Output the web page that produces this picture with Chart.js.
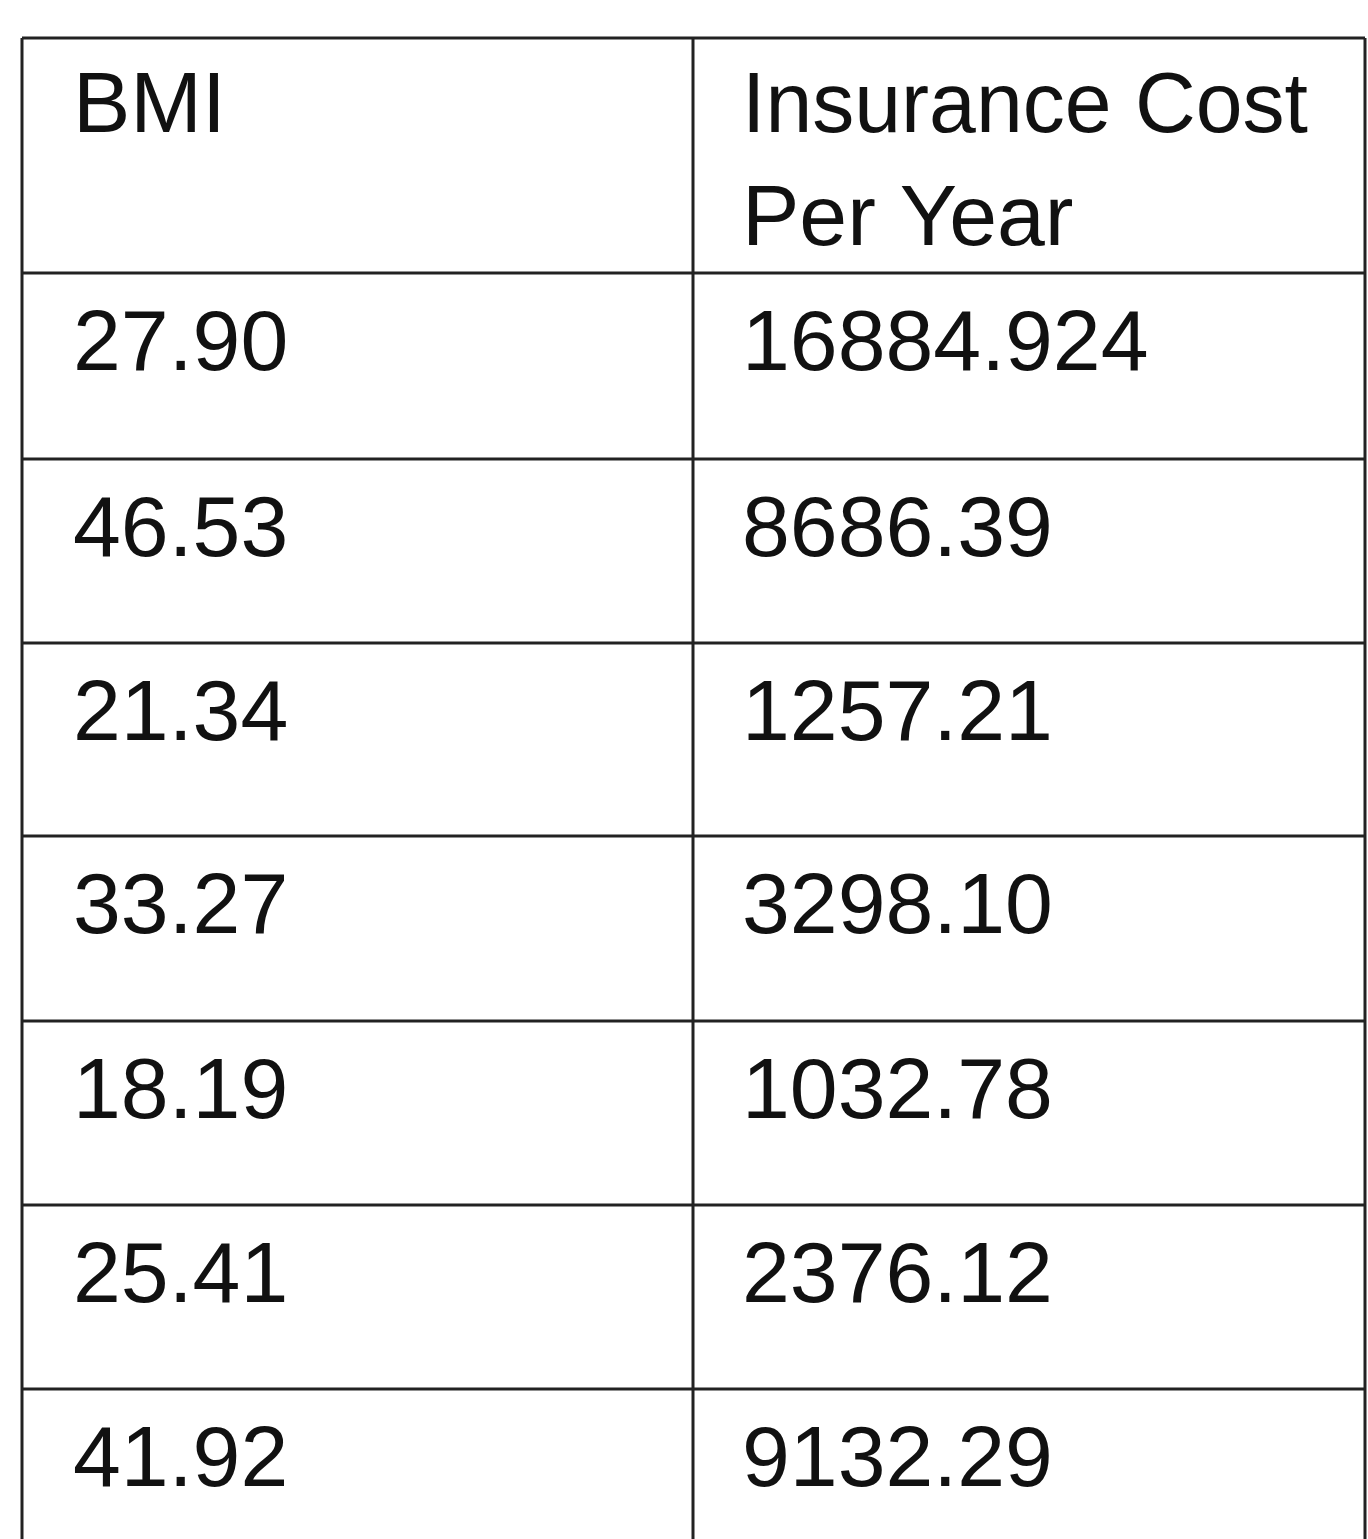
<!DOCTYPE html>
<html>
<head>
<meta charset="utf-8">
<script src="https://cdn.jsdelivr.net/npm/chart.js@4"></script>
<style>
  html, body { margin: 0; padding: 0; background: #fff; }
  #wrap { width: 1368px; height: 1539px; }
</style>
</head>
<body>
<div id="wrap"><canvas id="tableChart"></canvas></div>
<script>
// table content
const headers = [['BMI'], ['Insurance Cost', 'Per Year']];
const bmi = ['27.90', '46.53', '21.34', '33.27', '18.19', '25.41', '41.92'];
const cost = ['16884.924', '8686.39', '1257.21', '3298.10', '1032.78', '2376.12', '9132.29'];

// grid layout (page pixels)
const colLines = [22, 693, 1365];
const rowLines = [38, 273, 459, 643, 836, 1021, 1205, 1389, 1580];
const textX = [73, 742];

const tablePlugin = {
    id: 'tableDraw',
    afterDraw(chart) {
        const c = chart.ctx;
        const xs = chart.scales.x, ys = chart.scales.y;
        const px = v => xs.getPixelForValue(v);
        const py = v => ys.getPixelForValue(v);
        c.save();
        c.strokeStyle = '#222';
        c.lineWidth = 3;
        rowLines.forEach(r => {
            c.beginPath(); c.moveTo(px(colLines[0]), py(r)); c.lineTo(px(colLines[2]), py(r)); c.stroke();
        });
        colLines.forEach(x => {
            c.beginPath(); c.moveTo(px(x), py(rowLines[0])); c.lineTo(px(x), py(rowLines[rowLines.length - 1])); c.stroke();
        });
        c.fillStyle = '#111';
        c.font = '86px "Liberation Sans", Arial, sans-serif';
        c.textBaseline = 'alphabetic';
        headers.forEach((lines, i) => {
            lines.forEach((t, j) => c.fillText(t, px(textX[i]), py(132 + j * 113), i ? 566 : undefined));
        });
        bmi.forEach((v, i) => {
            const base = rowLines[i + 1] + 97;
            c.fillText(v, px(textX[0]), py(base));
            c.fillText(cost[i], px(textX[1]), py(base));
        });
        c.restore();
    }
};

new Chart(document.getElementById('tableChart').getContext('2d'), {
    type: 'scatter',
    data: { datasets: [{ data: [] }] },
    options: {
        responsive: true,
        maintainAspectRatio: false,
        animation: false,
        layout: { padding: 0 },
        plugins: { legend: { display: false }, tooltip: { enabled: false } },
        scales: {
            x: { type: 'linear', min: 0, max: 1368, display: false },
            y: { type: 'linear', min: 0, max: 1539, reverse: true, display: false }
        }
    },
    plugins: [tablePlugin]
});
</script>
</body>
</html>
